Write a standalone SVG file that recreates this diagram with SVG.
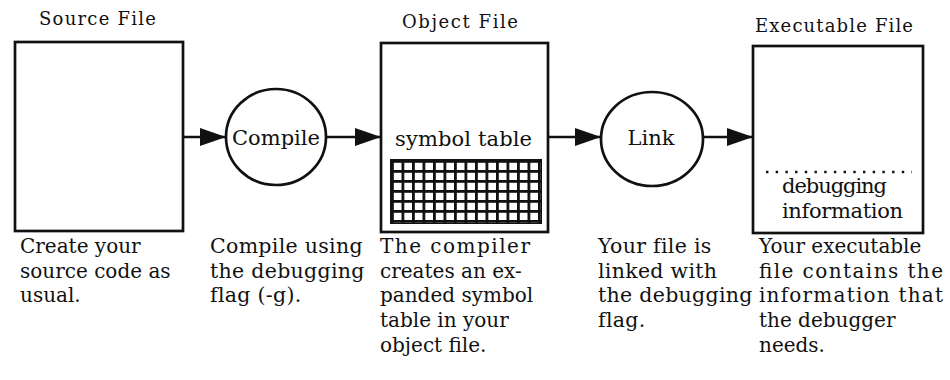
<svg xmlns="http://www.w3.org/2000/svg" width="950" height="380" viewBox="0 0 950 380">
  <style>
    .box { fill: #fff; stroke: #111; stroke-width: 2.7; }
    .node { fill: #fff; stroke: #111; stroke-width: 2.7; }
    .conn { stroke: #111; stroke-width: 2.7; fill: none; }
    .head { font-family: "DejaVu Serif", "Liberation Serif", serif; font-size: 18px; fill: #111; }
    .lbl { font-family: "DejaVu Serif", "Liberation Serif", serif; font-size: 21px; fill: #111; }
    .desc { font-family: "DejaVu Serif", "Liberation Serif", serif; font-size: 20px; fill: #111; }
    .wide { font-size: 20.5px; letter-spacing: 0.3px; }
  </style>
  <defs>
    <marker id="arrow" viewBox="0 0 26 18" refX="26" refY="9" markerWidth="26" markerHeight="18" markerUnits="userSpaceOnUse" orient="auto">
      <path d="M0,0 L26,9 L0,18 Z" fill="#111"/>
    </marker>
    <pattern id="grid" patternUnits="userSpaceOnUse" x="391" y="160" width="10.5" height="10">
      <rect x="2.8" y="2.8" width="7.7" height="7.2" fill="#fff"/>
    </pattern>
  </defs>
  <rect width="950" height="380" fill="#fff"/>

  <g id="connectors">
    <line class="conn" x1="183" y1="137" x2="226" y2="137" marker-end="url(#arrow)"/>
    <line class="conn" x1="325" y1="137" x2="381" y2="137" marker-end="url(#arrow)"/>
    <line class="conn" x1="548" y1="137" x2="601" y2="137" marker-end="url(#arrow)"/>
    <line class="conn" x1="703" y1="137" x2="753" y2="137" marker-end="url(#arrow)"/>
  </g>

  <g id="source-file">
    <text class="head" x="39" y="25" textLength="117">Source File</text>
    <rect class="box" x="15" y="42" width="168" height="189"/>
    <text class="desc" x="20" y="253">Create your</text>
    <text class="desc" x="20" y="278">source  code as</text>
    <text class="desc" x="20" y="302">usual.</text>
  </g>

  <g id="compile">
    <ellipse class="node" cx="276" cy="137" rx="50" ry="48"/>
    <text class="lbl" x="276" y="145" text-anchor="middle">Compile</text>
    <text class="desc wide" x="210" y="253">Compile using</text>
    <text class="desc wide" x="210" y="278">the debugging</text>
    <text class="desc wide" x="210" y="302">flag (-g).</text>
  </g>

  <g id="object-file">
    <text class="head" x="402" y="28" textLength="116">Object File</text>
    <rect class="box" x="381" y="43" width="167" height="189"/>
    <text class="lbl" x="395" y="146" textLength="137">symbol  table</text>
    <rect x="390" y="159" width="152" height="65" fill="#111"/>
    <rect x="391" y="160" width="150" height="63" fill="url(#grid)"/>
    <text class="desc" x="380" y="253" textLength="150">The compiler</text>
    <text class="desc" x="380" y="278">creates an ex-</text>
    <text class="desc" x="380" y="302">panded symbol</text>
    <text class="desc" x="380" y="327">table in your</text>
    <text class="desc" x="380" y="352">object file.</text>
  </g>

  <g id="link">
    <ellipse class="node" cx="652" cy="139" rx="51" ry="47"/>
    <text class="lbl" x="651" y="145" text-anchor="middle">Link</text>
    <text class="desc wide" x="598" y="253">Your file is</text>
    <text class="desc wide" x="598" y="278">linked with</text>
    <text class="desc wide" x="598" y="302">the debugging</text>
    <text class="desc wide" x="598" y="327">flag.</text>
  </g>

  <g id="executable-file">
    <text class="head" x="755" y="32" textLength="158">Executable File</text>
    <rect class="box" x="753" y="46" width="170" height="187"/>
    <line x1="766" y1="172" x2="912" y2="172" stroke="#111" stroke-width="2.6" stroke-dasharray="2.4 7.3"/>
    <text class="lbl" x="782" y="193" textLength="105">debugging</text>
    <text class="lbl" x="782" y="218" textLength="121">information</text>
    <text class="desc" x="759" y="253">Your executable</text>
    <text class="desc" x="759" y="278" textLength="184">file contains the</text>
    <text class="desc" x="759" y="302" textLength="184">information that</text>
    <text class="desc" x="759" y="327">the debugger</text>
    <text class="desc" x="759" y="352">needs.</text>
  </g>
</svg>
